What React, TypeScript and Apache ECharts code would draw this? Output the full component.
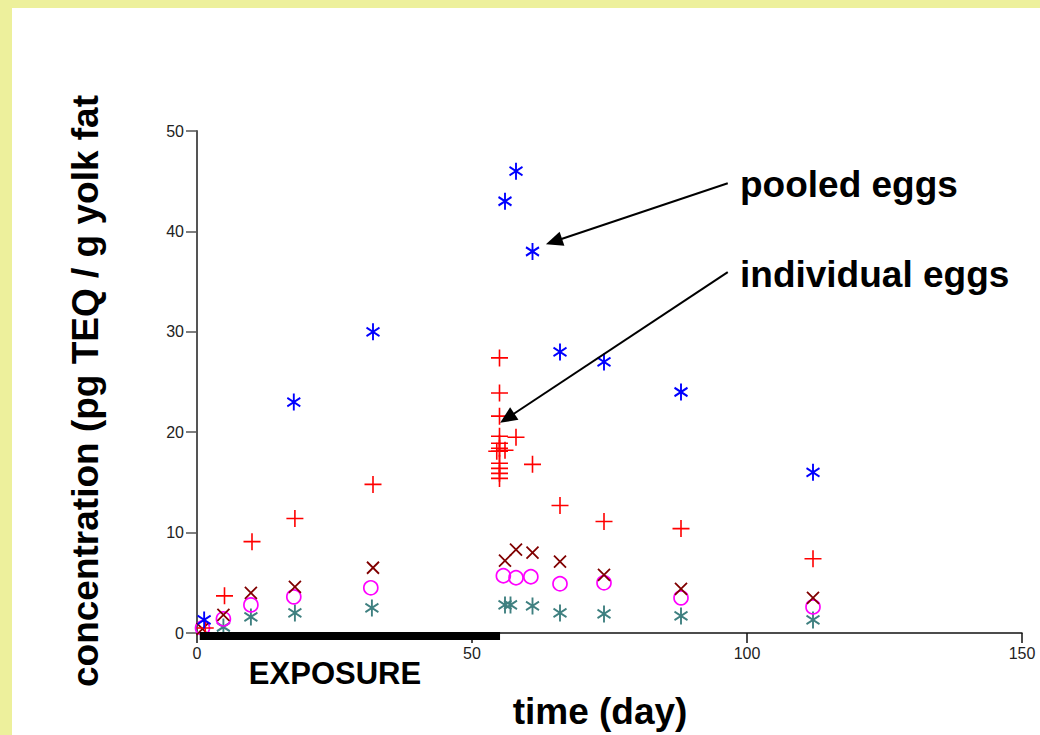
import React, { useEffect, useRef } from "react";
import * as echarts from "echarts";

// pooled eggs (blue asterisks)
const pooledDays = [1.3, 17.6, 32, 56, 58, 61, 66, 74, 88, 112];
const pooledConc = [1.3, 23, 30, 43, 46, 38, 28, 27, 24, 16];

// individual eggs (red plus)
const indivDays = [1.5, 5, 10, 17.8, 32, 55, 55, 55, 55, 55, 55, 55, 54.5, 55, 55, 55, 55, 56, 58, 61, 66, 74, 88, 112];
const indivConc = [0.5, 3.7, 9.1, 11.4, 14.8, 27.4, 23.9, 21.6, 19.6, 18.9, 18.4, 18.1, 18.1, 16.9, 16.4, 15.9, 15.4, 18.2, 19.5, 16.8, 12.7, 11.1, 10.4, 7.4];

// maroon crosses
const crossDays = [1, 4.8, 9.8, 17.8, 32, 56, 58, 61, 66, 74, 88, 112];
const crossConc = [0.4, 1.8, 4.0, 4.6, 6.5, 7.2, 8.3, 8.0, 7.1, 5.8, 4.4, 3.5];

// magenta circles
const circleDays = [1, 4.8, 9.8, 17.6, 31.6, 55.7, 58, 60.7, 66, 74, 88, 112];
const circleConc = [0.5, 1.4, 2.8, 3.6, 4.5, 5.7, 5.5, 5.6, 4.9, 5.0, 3.5, 2.6];

// teal asterisks
const tealDays = [4.8, 9.8, 17.8, 31.8, 56, 57, 61, 66, 74, 88, 112];
const tealConc = [0.6, 1.6, 2.0, 2.5, 2.8, 2.8, 2.7, 2.0, 1.9, 1.7, 1.3];

// exposure period
const exposureDays = [0.5, 55.1];
const exposureLevel = [-0.3, -0.3];

const xTicks = { min: 0, max: 150, interval: 50 };
const yTicks = { min: 0, max: 50, interval: 10 };

const FONT = "'Liberation Sans', Arial, Helvetica, sans-serif";
const ASTERISK = "path://M0,-1L0,1M-0.866,-0.5L0.866,0.5M-0.866,0.5L0.866,-0.5";
const PLUS = "path://M0,-1L0,1M-1,0L1,0";
const CROSS = "path://M-1,-1L1,1M-1,1L1,-1";

const zip = (a: number[], b: number[]) => a.map((v, i) => [v, b[i]]);

function markerSeries(name: string, xs: number[], ys: number[], symbol: string, size: number | number[], color: string, width = 1.7) {
  return {
    name,
    type: "scatter",
    data: zip(xs, ys),
    symbol,
    symbolSize: size,
    symbolKeepAspect: true,
    z: 3,
    itemStyle: { color: "rgba(0,0,0,0)", borderColor: color, borderWidth: width, opacity: 1 },
    emphasis: { disabled: true },
    clip: false,
  };
}

export default function App() {
  const ref = useRef<HTMLDivElement>(null);
  useEffect(() => {
    if (!ref.current) return;
    const chart = echarts.init(ref.current, null, { renderer: "svg" });
    chart.setOption({
      animation: false,
      grid: { left: 197, right: 18, top: 131, bottom: 102, containLabel: false },
      xAxis: {
        type: "value",
        min: xTicks.min,
        max: xTicks.max,
        interval: xTicks.interval,
        splitLine: { show: false },
        axisLine: { show: true, lineStyle: { color: "#111", width: 1.5 } },
        axisTick: { show: true, length: 10, lineStyle: { color: "#111", width: 1.5 } },
        axisLabel: { fontSize: 16, margin: 12, color: "#222", fontFamily: FONT },
      },
      yAxis: {
        type: "value",
        min: yTicks.min,
        max: yTicks.max,
        interval: yTicks.interval,
        splitLine: { show: false },
        axisLine: { show: true, lineStyle: { color: "#555", width: 2 } },
        axisTick: { show: true, length: 11, lineStyle: { color: "#555", width: 1.5 } },
        axisLabel: { fontSize: 16, margin: 13, color: "#222", fontFamily: FONT },
      },
      series: [
        {
          name: "exposure",
          type: "line",
          data: zip(exposureDays, exposureLevel),
          symbol: "none",
          clip: false,
          z: 4,
          lineStyle: { color: "#000", width: 8, cap: "butt" },
          emphasis: { disabled: true },
          markLine: {
            silent: true,
            symbol: ["none", "triangle"],
            symbolSize: [15, 17],
            label: { show: false },
            lineStyle: { color: "#000", width: 2, type: "solid" },
            emphasis: { disabled: true },
            data: [
              [{ coord: [96.5, 44.8] }, { coord: [64.9, 39.0] }],
              [{ coord: [96.5, 35.95] }, { coord: [56.4, 21.4] }],
            ],
          },
        },
        markerSeries("teal", tealDays, tealConc, ASTERISK, [15, 17], "#3f8080", 2),
        markerSeries("circles", circleDays, circleConc, "circle", 14, "#ff00ff", 1.7),
        markerSeries("crosses", crossDays, crossConc, CROSS, 12, "#800000", 1.8),
        markerSeries("individual eggs", indivDays, indivConc, PLUS, 17, "#ff0000", 1.6),
        markerSeries("pooled eggs", pooledDays, pooledConc, ASTERISK, [15, 17], "#0000ff", 2),
      ],
      graphic: [
        {
          type: "text",
          x: 85,
          y: 391,
          rotation: Math.PI / 2,
          style: { text: "concentration (pg TEQ / g yolk fat", font: `bold 37px ${FONT}`, fill: "#000", align: "center", verticalAlign: "middle" },
        },
        {
          type: "text",
          x: 600,
          y: 711,
          style: { text: "time (day)", font: `bold 37px ${FONT}`, fill: "#000", align: "center", verticalAlign: "middle" },
        },
        {
          type: "text",
          x: 335,
          y: 673,
          style: { text: "EXPOSURE", font: `bold 31px ${FONT}`, fill: "#000", align: "center", verticalAlign: "middle" },
        },
        {
          type: "text",
          x: 740,
          y: 184,
          style: { text: "pooled eggs", font: `bold 37px ${FONT}`, fill: "#000", align: "left", verticalAlign: "middle" },
        },
        {
          type: "text",
          x: 740,
          y: 274,
          style: { text: "individual eggs", font: `bold 37px ${FONT}`, fill: "#000", align: "left", verticalAlign: "middle" },
        },
      ],
    });
    return () => chart.dispose();
  }, []);
  return (
    <div style={{ position: "fixed", left: 0, top: 0, width: 1040, height: 735, background: "#edf09c", overflow: "hidden" }}>
      <div style={{ position: "absolute", left: 12, top: 8, right: 0, bottom: 0, background: "#fff" }} />
      <div ref={ref} style={{ position: "absolute", left: 0, top: 0, width: 1040, height: 735 }} />
    </div>
  );
}
